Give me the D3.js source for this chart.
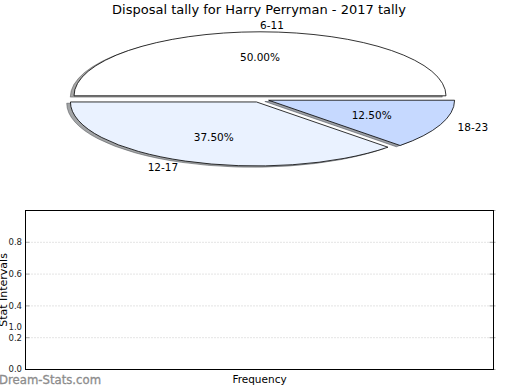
<!DOCTYPE html>
<html>
<head>
<meta charset="utf-8">
<script src="https://cdn.jsdelivr.net/npm/d3@7"></script>
<style>
  body { margin: 0; background: #fff; }
  svg { display: block; font-family: "DejaVu Sans", sans-serif; }
</style>
</head>
<body>
<svg id="chart" width="520" height="390"></svg>
<script>
// pie data
const sliceLabels = ['6-11', '12-17', '18-23'];
const sliceValues = [4, 3, 1];
const sliceColors = ['#ffffff', '#eaf2ff', '#c6d9ff'];
const explode = [0.05, 0.05, 0.05];

// empty lower chart
const yTicks = [0.0, 0.2, 0.4, 0.6, 0.8];
const yDomain = [0, 1];
const titleText = 'Disposal tally for Harry Perryman - 2017 tally';

const svg = d3.select('#chart');

// ---- pie (matplotlib style, squashed to an ellipse) ----
const cx = 260, cy = 99, rx = 186, ry = 64;
const px = d3.scaleLinear().domain([-1, 1]).range([cx - rx, cx + rx]);
const py = d3.scaleLinear().domain([-1, 1]).range([cy + ry, cy - ry]);

svg.append('text')
  .attr('x', 259).attr('y', 14)
  .attr('text-anchor', 'middle')
  .attr('font-size', 13)
  .text(titleText);

// counter-clockwise from 3 o'clock like matplotlib
const pie = d3.pie().sort(null).startAngle(Math.PI / 2).endAngle(Math.PI / 2 - 2 * Math.PI);
const arcs = pie(sliceValues);
const arc = d3.arc().innerRadius(0).outerRadius(1);

const total = d3.sum(sliceValues);

arcs.forEach((a, i) => {
  const mid = (a.startAngle + a.endAngle) / 2;
  const ux = Math.sin(mid), uy = Math.cos(mid); // unit direction in data coords (y up)
  const ox = explode[i] * ux, oy = explode[i] * uy;

  const c = d3.rgb(sliceColors[i]);
  const shadowCol = d3.rgb(c.r * 0.3, c.g * 0.3, c.b * 0.3);

  // shadow
  svg.append('path')
    .attr('d', arc(a))
    .attr('transform', `translate(${px(ox - 0.02)},${py(oy - 0.02)}) scale(${rx},${ry})`)
    .attr('fill', shadowCol)
    .attr('fill-opacity', 0.5)
    .attr('stroke', shadowCol)
    .attr('stroke-opacity', 0.5)
    .attr('stroke-width', 1)
    .attr('vector-effect', 'non-scaling-stroke');
});

arcs.forEach((a, i) => {
  const mid = (a.startAngle + a.endAngle) / 2;
  const ux = Math.sin(mid), uy = Math.cos(mid);
  const ox = explode[i] * ux, oy = explode[i] * uy;
  svg.append('path')
    .attr('d', arc(a))
    .attr('transform', `translate(${px(ox)},${py(oy)}) scale(${rx},${ry})`)
    .attr('fill', sliceColors[i])
    .attr('stroke', '#000')
    .attr('stroke-width', 0.8)
    .attr('vector-effect', 'non-scaling-stroke');
});

arcs.forEach((a, i) => {
  const mid = (a.startAngle + a.endAngle) / 2;
  const ux = Math.sin(mid), uy = Math.cos(mid);
  const ox = explode[i] * ux, oy = explode[i] * uy;
  const lx = px(ox + 1.1 * ux), ly = py(oy + 1.1 * uy);
  svg.append('text')
    .attr('x', lx).attr('y', ly)
    .attr('dy', '0.35em')
    .attr('text-anchor', ux < -1e-9 ? 'end' : 'start')
    .attr('font-size', 10.5)
    .text(sliceLabels[i]);
  const tx = px(ox + 0.6 * ux), ty = py(oy + 0.6 * uy);
  svg.append('text')
    .attr('x', tx).attr('y', ty)
    .attr('dy', '0.35em')
    .attr('text-anchor', 'middle')
    .attr('font-size', 10.5)
    .text(d3.format('.2f')(sliceValues[i] / total * 100) + '%');
});

// ---- empty lower axes ----
const axLeft = 25.5, axRight = 493.5, axTop = 210.5, axBottom = 369.5;
const y = d3.scaleLinear().domain(yDomain).range([axBottom, axTop]);

const g = svg.append('g');
g.selectAll('line.grid')
  .data(yTicks.filter(d => d > 0))
  .join('line')
  .attr('class', 'grid')
  .attr('x1', axLeft).attr('x2', axRight)
  .attr('y1', d => y(d)).attr('y2', d => y(d))
  .attr('stroke', '#c8c8c8')
  .attr('stroke-dasharray', '1,2');

// tick marks, left and right, pointing in
const allTicks = yTicks.concat([1.0]);
g.selectAll('line.tl')
  .data(allTicks)
  .join('line')
  .attr('class', 'tl')
  .attr('x1', axLeft).attr('x2', axLeft + 4)
  .attr('y1', d => y(d)).attr('y2', d => y(d))
  .attr('stroke', '#aaa');
g.selectAll('line.tr')
  .data(allTicks)
  .join('line')
  .attr('class', 'tr')
  .attr('x1', axRight - 4).attr('x2', axRight + 2)
  .attr('y1', d => y(d)).attr('y2', d => y(d))
  .attr('stroke', '#aaa');

g.append('rect')
  .attr('x', axLeft).attr('y', axTop)
  .attr('width', axRight - axLeft).attr('height', axBottom - axTop)
  .attr('fill', 'none')
  .attr('stroke', '#000')
  .attr('stroke-width', 1);

g.selectAll('text.yt')
  .data(yTicks)
  .join('text')
  .attr('class', 'yt')
  .attr('x', 22).attr('y', d => y(d))
  .attr('dy', '0.35em')
  .attr('text-anchor', 'end')
  .attr('font-size', 8.5)
  .attr('fill', '#222')
  .text(d => d3.format('.1f')(d));

// stray label sitting just above 0.2 in the reference
g.append('text')
  .attr('x', 22).attr('y', y(0.265))
  .attr('dy', '0.35em')
  .attr('text-anchor', 'end')
  .attr('font-size', 8.5)
  .attr('fill', '#222')
  .text('1.0');

svg.append('text')
  .attr('transform', `translate(7,${y(0.5)}) rotate(-90)`)
  .attr('text-anchor', 'middle')
  .attr('font-size', 11)
  .text('Stat Intervals');

svg.append('text')
  .attr('x', (axLeft + axRight) / 2).attr('y', 383)
  .attr('text-anchor', 'middle')
  .attr('font-size', 10.5)
  .text('Frequency');

svg.append('text')
  .attr('x', -1).attr('y', 384)
  .attr('font-size', 11.7)
  .attr('fill', '#8c8c8c')
  .attr('stroke', '#8c8c8c')
  .attr('stroke-width', 0.3)
  .text('Dream-Stats.com');
</script>
</body>
</html>
